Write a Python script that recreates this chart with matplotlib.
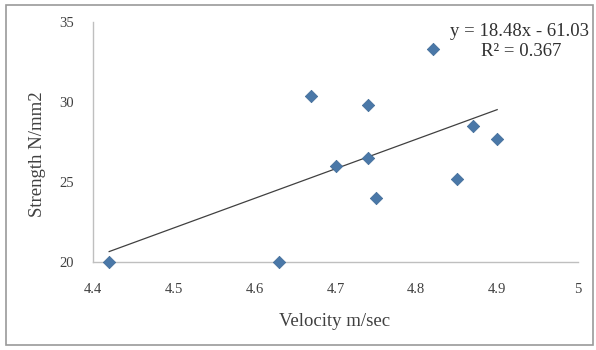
import matplotlib
matplotlib.use("Agg")
import matplotlib.pyplot as plt
from matplotlib.patches import Rectangle
import numpy as np

velocity = [4.42, 4.63, 4.67, 4.70, 4.74, 4.74, 4.75, 4.82, 4.85, 4.87, 4.90]
strength = [20.0, 20.0, 30.4, 26.0, 29.8, 26.5, 24.0, 33.3, 25.2, 28.5, 27.7]
slope, intercept = 18.48, -61.03
r2 = 0.367
x_ticks = [4.4, 4.5, 4.6, 4.7, 4.8, 4.9, 5]
x_tick_labels = ["4.4", "4.5", "4.6", "4.7", "4.8", "4.9", "5"]
y_ticks = [20, 25, 30, 35]

plt.rcParams['font.family'] = ['Liberation Serif', 'DejaVu Serif']

fig = plt.figure(figsize=(5.96, 3.5), dpi=100)
ax = fig.add_axes([93/596, 88/350, (578-93)/596, (262-22)/350])

ax.scatter(velocity, strength, marker='D', s=40, color='#4A78A8',
           edgecolors='#3F6A96', linewidths=0.5, zorder=3, clip_on=False)

xs = np.array([min(velocity), max(velocity)])
ax.plot(xs, slope*xs + intercept, color='#404040', lw=0.9, zorder=2)

ax.set_xlim(4.4, 5.0)
ax.set_ylim(20, 35)
ax.set_xticks(x_ticks)
ax.set_xticklabels(x_tick_labels)
ax.set_yticks(y_ticks)
ax.tick_params(axis='both', length=0, labelsize=10.5, colors='#404040')
ax.tick_params(axis='x', pad=15)
ax.tick_params(axis='y', pad=14)
for s in ['top', 'right']:
    ax.spines[s].set_visible(False)
for s in ['left', 'bottom']:
    ax.spines[s].set_color('#BFBFBF')
    ax.spines[s].set_linewidth(1.0)

ax.set_xlabel("Velocity m/sec", fontsize=13.5, color='#404040', va='center')
ax.set_ylabel("Strength N/mm2", fontsize=13.5, color='#404040', va='center')
ax.xaxis.set_label_coords((335-93)/485, (262-322)/240)
ax.yaxis.set_label_coords((37-93)/485, (262-154)/240)

fig.text(519/596, 1 - 32/350, "y = 18.48x - 61.03", ha='center', va='center',
         fontsize=13.5, color='#303030')
fig.text(521/596, 1 - 52/350, "R² = %.3f" % r2, ha='center', va='center',
         fontsize=13.5, color='#303030')

fig.patches.append(Rectangle((6/596, 5/350), 587/596, 340/350, transform=fig.transFigure,
                             fill=False, edgecolor='#9A9A9A', lw=1.2))

fig.savefig("out.png", dpi=100)
